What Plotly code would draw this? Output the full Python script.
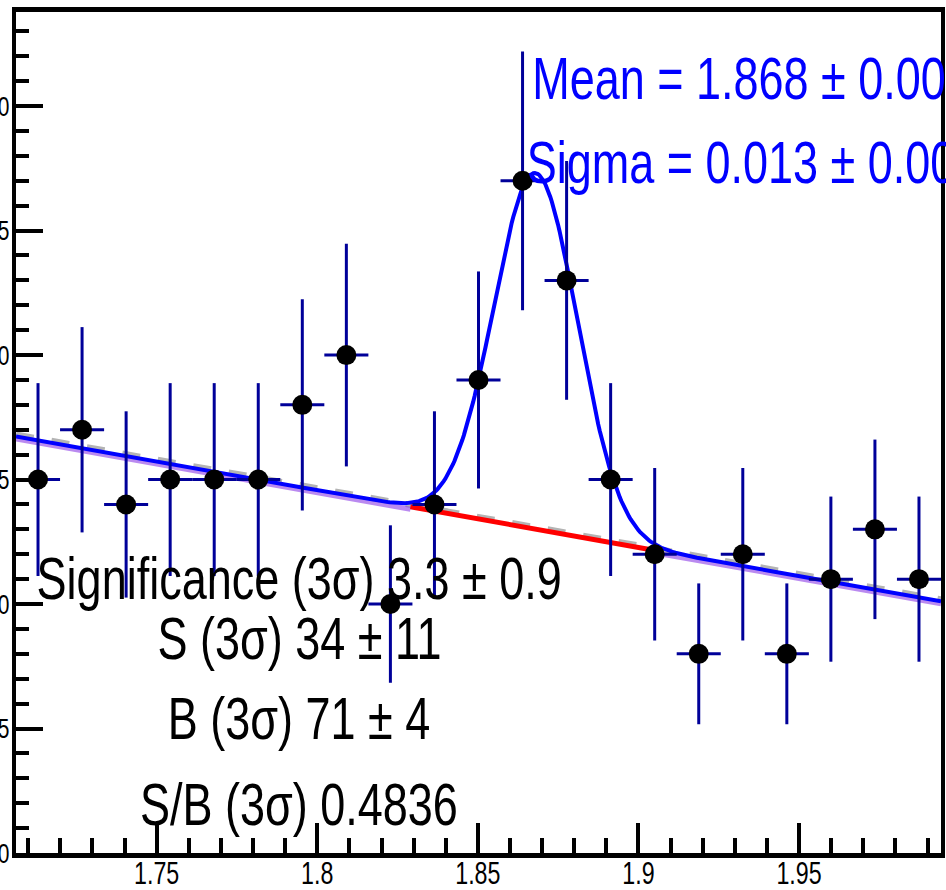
import numpy as np
import plotly.graph_objects as go

# Histogram: 21 bins of the candidate invariant mass (GeV/c^2)
x_lo, x_hi = 1.7062, 1.9942
n_bins = 21
counts = [15, 17, 14, 15, 15, 15, 18, 20, 10, 14, 19, 27, 23, 15, 12, 8, 12, 8, 11, 13, 11]

# Fit result: Gaussian signal on a linear background
g_amp, g_mean, g_sigma = 14.3, 1.868, 0.013
bg_at_lo, bg_slope = 16.73, -23.0

stat_lines = [
    "Significance (3σ) 3.3 ± 0.9",
    "S (3σ) 34 ± 11",
    "B (3σ) 71 ± 4",
    "S/B (3σ) 0.4836",
]
fit_lines = ["Mean = 1.868 ± 0.004", "Sigma = 0.013 ± 0.004"]

bw = (x_hi - x_lo) / n_bins
centers = x_lo + (np.arange(n_bins) + 0.5) * bw
errs = np.sqrt(np.array(counts, dtype=float))


def bg(x):
    return bg_at_lo + bg_slope * (x - x_lo)


def total(x):
    return bg(x) + g_amp * np.exp(-0.5 * ((x - g_mean) / g_sigma) ** 2)


xf = np.linspace(x_lo, x_hi, 600)
lo3, hi3 = g_mean - 3 * g_sigma, g_mean + 3 * g_sigma
xs = np.linspace(lo3, hi3, 200)
x_left = np.linspace(x_lo, lo3, 100)
x_right = np.linspace(hi3, x_hi, 100)

FONT = "Liberation Sans, Arial, Helvetica, sans-serif"

fig = go.Figure()

# full-range background (dashed grey)
fig.add_trace(go.Scatter(x=xf, y=bg(xf) + 0.08, mode="lines",
                         line=dict(color="#b4b4b4", width=6, dash="dash"),
                         hoverinfo="skip", showlegend=False))
# sideband background (violet)
for xx in (x_left, x_right):
    fig.add_trace(go.Scatter(x=xx, y=bg(xx) - 0.1, mode="lines",
                             line=dict(color="rgba(140,60,230,0.6)", width=5),
                             hoverinfo="skip", showlegend=False))
# background under the signal window (red)
fig.add_trace(go.Scatter(x=xs, y=bg(xs), mode="lines",
                         line=dict(color="#ff0000", width=5),
                         hoverinfo="skip", showlegend=False))
# total fit (blue)
fig.add_trace(go.Scatter(x=xf, y=total(xf), mode="lines",
                         line=dict(color="#0000ff", width=4),
                         hoverinfo="skip", showlegend=False))
# data points
fig.add_trace(go.Scatter(
    x=centers, y=counts, mode="markers",
    marker=dict(color="black", size=20, symbol="circle"),
    error_x=dict(type="data", array=[bw / 2] * n_bins, color="#000099", thickness=3, width=0),
    error_y=dict(type="data", array=errs, color="#000099", thickness=3, width=0),
    showlegend=False))

for t, xx, yy in zip(fit_lines, [1.9351, 1.9357], [31.1, 27.75]):
    fig.add_annotation(x=xx, y=yy, text=t, showarrow=False,
                       xanchor="center", yanchor="middle", xref="x", yref="y",
                       font=dict(family=FONT, size=60, color="#0000ff"))

for t, yy in zip(stat_lines, [11.04, 8.63, 5.42, 1.93]):
    fig.add_annotation(x=1.7944, y=yy, text=t, showarrow=False,
                       xanchor="center", yanchor="middle", xref="x", yref="y",
                       font=dict(family=FONT, size=60, color="black"))

fig.update_xaxes(range=[x_lo, x_hi], showgrid=False, zeroline=False, automargin=False,
                 showline=True, linecolor="black", linewidth=5, mirror=True,
                 ticks="inside", ticklen=30, tickwidth=4, tickcolor="black",
                 tick0=1.75, dtick=0.05, ticklabelstandoff=-11,
                 minor=dict(ticks="inside", ticklen=15, tickwidth=4, tickcolor="black",
                            dtick=0.01, tick0=1.75, showgrid=False),
                 tickfont=dict(family=FONT, size=31, color="black"))
fig.update_yaxes(range=[0, 33.78], showgrid=False, zeroline=False, automargin=False,
                 showline=True, linecolor="black", linewidth=4, mirror=True,
                 ticks="inside", ticklen=27, tickwidth=4, tickcolor="black",
                 tick0=0, dtick=5, ticklabelstandoff=-3,
                 minor=dict(ticks="inside", ticklen=13, tickwidth=4, tickcolor="black",
                            dtick=1, showgrid=False),
                 tickfont=dict(family=FONT, size=28, color="black"))

fig.update_layout(width=946, height=890, margin=dict(l=16, r=5, t=12, b=37),
                  plot_bgcolor="white", paper_bgcolor="white")

# narrow the lettering horizontally (condensed look) around each text anchor
squeeze_js = """
var gd = document.getElementById('{plot_id}');
gd.querySelectorAll('text').forEach(function (t) {
  var x = parseFloat(t.getAttribute('x')) || 0;
  var tr = t.getAttribute('transform') || '';
  t.setAttribute('transform', tr + ' translate(' + x + ',0) scale(0.75,1) translate(' + (-x) + ',0)');
});
"""

fig.write_html("out.html", post_script=squeeze_js)
